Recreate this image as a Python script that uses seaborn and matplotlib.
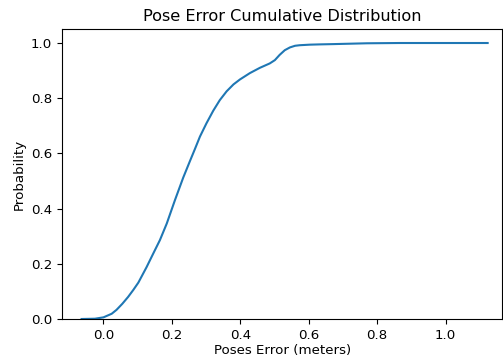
import matplotlib
matplotlib.use("Agg")
import matplotlib.pyplot as plt
import seaborn as sns
import pandas as pd

pose_error = [-0.064, -0.025, 0.0, 0.024, 0.038, 0.055, 0.072, 0.087, 0.102, 0.126,
              0.145, 0.165, 0.185, 0.209, 0.233, 0.253, 0.267, 0.282, 0.301, 0.321,
              0.340, 0.360, 0.380, 0.399, 0.428, 0.457, 0.486, 0.501, 0.515, 0.530,
              0.545, 0.560, 0.574, 0.603, 0.632, 0.671, 0.77, 0.866, 1.0, 1.123]
probability = [0.0, 0.001, 0.006, 0.019, 0.033, 0.055, 0.080, 0.105, 0.132, 0.188,
               0.236, 0.286, 0.346, 0.431, 0.512, 0.573, 0.615, 0.661, 0.709, 0.755,
               0.793, 0.825, 0.850, 0.868, 0.891, 0.910, 0.926, 0.938, 0.957, 0.974,
               0.984, 0.990, 0.992, 0.994, 0.995, 0.996, 0.999, 1.0, 1.0, 1.0]

df = pd.DataFrame({"Poses Error (meters)": pose_error, "Probability": probability})

fig = plt.figure(figsize=(5.03, 3.6), dpi=100)
ax = fig.add_axes([0.1233, 0.1139, 0.8757, 0.8055])
sns.lineplot(data=df, x="Poses Error (meters)", y="Probability", ax=ax,
             color="#1f77b4", linewidth=1.5)
ax.set_xlim(-0.1212, 1.1664)
ax.set_ylim(0, 1.0507)
ax.set_xticks([0.0, 0.2, 0.4, 0.6, 0.8, 1.0])
ax.set_yticks([0.0, 0.2, 0.4, 0.6, 0.8, 1.0])
ax.tick_params(labelsize=9.65)
ax.set_xlabel("Poses Error (meters)", fontsize=9.65, labelpad=1.5)
ax.set_ylabel("Probability", fontsize=9.65)
ax.set_title("Pose Error Cumulative Distribution", fontsize=11.6)
fig.savefig("out.png", dpi=100)
